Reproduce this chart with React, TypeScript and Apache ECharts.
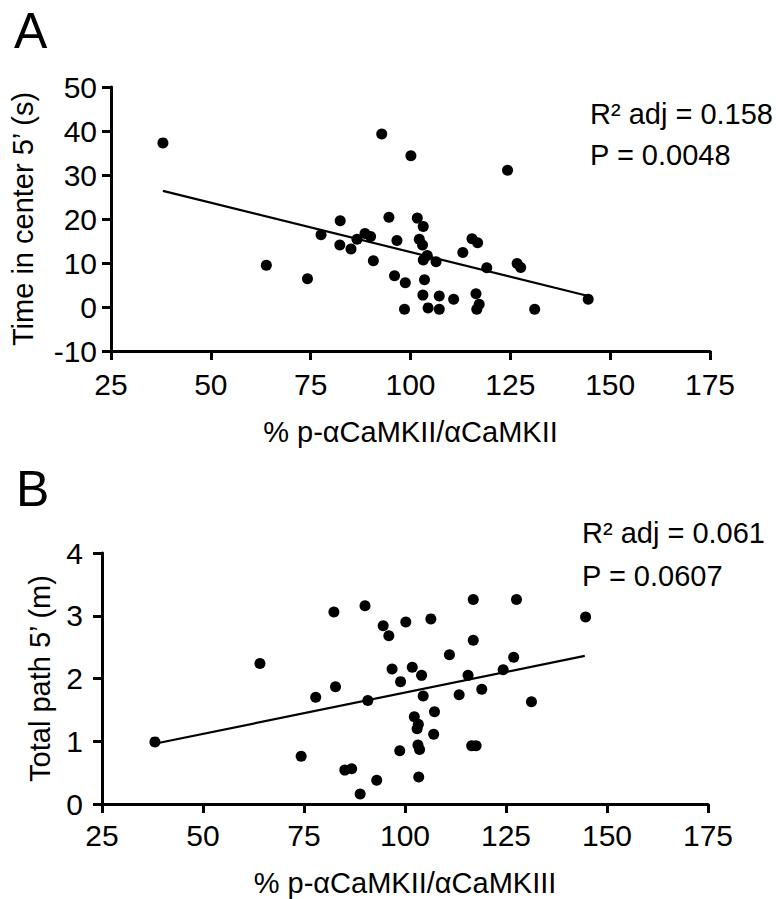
import React, { useEffect, useRef } from "react";
import * as echarts from "echarts";

const xTicks = [25, 50, 75, 100, 125, 150, 175];
const yTicksA = [-10, 0, 10, 20, 30, 40, 50];
const yTicksB = [0, 1, 2, 3, 4];

const pctA = [38.0, 63.9, 74.2, 77.6, 82.4, 82.3, 85.1, 86.6, 88.6, 90.0, 90.7, 92.8, 94.6, 96.0, 96.6, 98.7, 98.5, 100.1, 101.7, 103.2, 102.2, 103.0, 104.2, 103.2, 106.4, 103.5, 103.1, 104.4, 107.2, 107.2, 110.8, 113.1, 115.4, 116.8, 119.1, 116.4, 117.2, 116.6, 124.3, 126.7, 127.6, 131.1, 144.5];
const timeCenter = [37.3, 9.5, 6.4, 16.4, 19.6, 14.1, 13.2, 15.4, 16.7, 16.0, 10.5, 39.3, 20.4, 7.1, 15.1, 5.5, -0.5, 34.4, 20.2, 18.3, 15.4, 14.1, 11.7, 10.7, 10.3, 6.2, 2.7, -0.2, 2.5, -0.5, 1.75, 12.4, 15.5, 14.6, 8.9, 3.0, 0.6, -0.5, 31.1, 9.9, 9.0, -0.5, 1.75];

const pctB = [38.1, 64.1, 74.3, 77.9, 82.4, 82.8, 85.1, 86.8, 88.9, 90.1, 90.8, 93.0, 94.6, 96.0, 96.8, 98.9, 98.7, 100.2, 101.8, 104.1, 102.3, 103.3, 103.0, 104.5, 103.2, 103.6, 103.4, 106.4, 107.3, 107.1, 111.0, 113.4, 115.6, 116.9, 116.9, 119.0, 116.5, 117.6, 124.3, 126.9, 127.6, 131.3, 144.7];
const totalPath = [0.99, 2.24, 0.76, 1.70, 3.06, 1.87, 0.54, 0.56, 0.16, 3.16, 1.65, 0.38, 2.84, 2.68, 2.15, 1.95, 0.85, 2.90, 2.18, 2.05, 1.39, 1.27, 1.20, 1.72, 0.94, 0.87, 0.43, 2.95, 1.47, 1.11, 2.38, 1.74, 2.05, 3.26, 2.61, 1.83, 0.93, 0.93, 2.14, 2.34, 3.26, 1.63, 2.98];

const fitA = [[38, 26.4], [144.5, 2.5]];
const fitB = [[38, 0.96], [144.5, 2.36]];

const statsA = ["R\u00B2 adj = 0.158", "P = 0.0048"];
const statsB = ["R\u00B2 adj = 0.061", "P = 0.0607"];

const panelLabels = ["A", "B"];
const xTitles = ["% p-\u03B1CaMKII/\u03B1CaMKII", "% p-\u03B1CaMKII/\u03B1CaMKIII"];
const yTitles = ["Time in center 5\u2019 (s)", "Total path 5\u2019 (m)"];

const FONT = "'Liberation Sans', Arial, Helvetica, sans-serif";

export default function App() {
  const ref = useRef<HTMLDivElement>(null);
  useEffect(() => {
    if (!ref.current) return;
    const chart = echarts.init(ref.current, undefined, { renderer: "svg" });
    const axisCommon = {
      type: "value" as const,
      splitLine: { show: false },
      axisLine: { show: true, onZero: false, lineStyle: { color: "#000", width: 3 } },
      axisTick: { show: true, length: 9, lineStyle: { color: "#000", width: 3 } },
      axisLabel: { color: "#000", fontSize: 30, fontFamily: FONT },
      nameLocation: "middle" as const,
      nameTextStyle: { color: "#000", fontSize: 29, fontFamily: FONT },
    };
    const toPairs = (xs: number[], ys: number[]) => xs.map((x, i) => [x, ys[i]]);
    const textEl = (t: string, x: number, y: number, size: number) => ({
      type: "text",
      x,
      y,
      style: { text: t, fill: "#000", fontSize: size, lineHeight: Math.round(size * 0.8), fontFamily: FONT, verticalAlign: "middle", align: "left" },
    });
    const option = {
      animation: false,
      backgroundColor: "#fff",
      grid: [
        { left: 104, top: 87, width: 606, height: 264 },
        { left: 102, top: 553, width: 606, height: 251 },
      ],
      xAxis: [
        { ...axisCommon, gridIndex: 0, min: xTicks[0], max: xTicks[xTicks.length - 1], interval: 25, name: xTitles[0], nameGap: 66, axisLabel: { ...axisCommon.axisLabel, margin: 18 } },
        { ...axisCommon, gridIndex: 1, min: xTicks[0], max: xTicks[xTicks.length - 1], interval: 25, name: xTitles[1], nameGap: 64, axisLabel: { ...axisCommon.axisLabel, margin: 16 } },
      ],
      yAxis: [
        { ...axisCommon, gridIndex: 0, min: yTicksA[0], max: yTicksA[yTicksA.length - 1], interval: 10, name: yTitles[0], nameGap: 74, axisLabel: { ...axisCommon.axisLabel, margin: 14 } },
        { ...axisCommon, gridIndex: 1, min: yTicksB[0], max: yTicksB[yTicksB.length - 1], interval: 1, name: yTitles[1], nameGap: 48, axisLabel: { ...axisCommon.axisLabel, margin: 19 } },
      ],
      series: [
        { type: "scatter", xAxisIndex: 0, yAxisIndex: 0, data: toPairs(pctA, timeCenter), symbolSize: 11, itemStyle: { color: "#000", opacity: 1 } },
        { type: "line", xAxisIndex: 0, yAxisIndex: 0, data: fitA, symbol: "none", lineStyle: { color: "#000", width: 2.2 } },
        { type: "scatter", xAxisIndex: 1, yAxisIndex: 1, data: toPairs(pctB, totalPath), symbolSize: 11, itemStyle: { color: "#000", opacity: 1 } },
        { type: "line", xAxisIndex: 1, yAxisIndex: 1, data: fitB, symbol: "none", lineStyle: { color: "#000", width: 2.2 } },
      ],
      graphic: [
        textEl(panelLabels[0], 14, 31, 50),
        textEl(panelLabels[1], 16, 489, 50),
        textEl(statsA[0], 590, 114, 29),
        textEl(statsA[1], 590, 155, 29),
        textEl(statsB[0], 582, 533, 29),
        textEl(statsB[1], 582, 576, 29),
      ],
    };
    chart.setOption(option as any);
    return () => chart.dispose();
  }, []);
  return <div ref={ref} style={{ position: "absolute", left: 0, top: 0, width: 780, height: 899 }} />;
}
